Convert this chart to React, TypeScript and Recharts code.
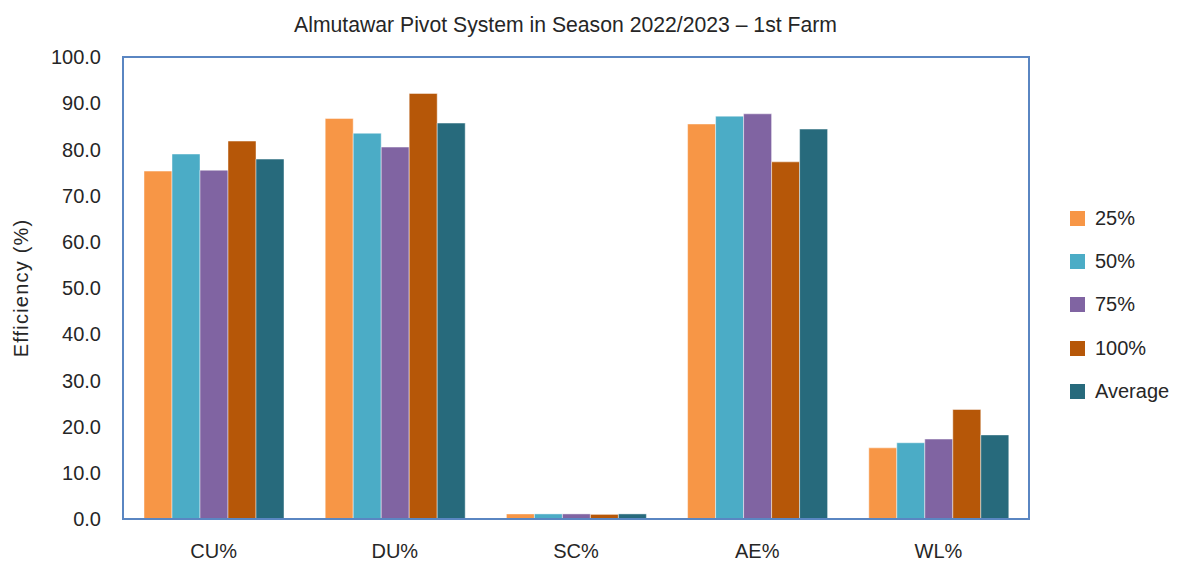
import { BarChart, Bar, XAxis, YAxis, Legend, ReferenceArea } from "recharts";

const categories = ["CU%", "DU%", "SC%", "AE%", "WL%"];
const s25 = [75.3, 86.7, 1.1, 85.5, 15.4];
const s50 = [79.0, 83.5, 1.1, 87.2, 16.5];
const s75 = [75.5, 80.5, 1.1, 87.7, 17.3];
const s100 = [81.8, 92.1, 1.0, 77.3, 23.7];
const sAvg = [77.9, 85.7, 1.1, 84.4, 18.2];
const yTicks = [0, 10, 20, 30, 40, 50, 60, 70, 80, 90, 100];

const series = [
  { key: "25%", values: s25, color: "#F79646" },
  { key: "50%", values: s50, color: "#4BACC6" },
  { key: "75%", values: s75, color: "#8064A2" },
  { key: "100%", values: s100, color: "#B65708" },
  { key: "Average", values: sAvg, color: "#276A7C" },
];

const data = categories.map((name, i) => {
  const row: Record<string, string | number> = { name };
  series.forEach((s) => (row[s.key] = s.values[i]));
  return row;
});

const FONT = "'Liberation Sans', Arial, sans-serif";
const TEXT = "#262626";

const LegendBox = () => (
  <div style={{ fontFamily: FONT, paddingLeft: 41, whiteSpace: "nowrap" }}>
    {series.map((s) => (
      <div
        key={s.key}
        style={{ display: "flex", alignItems: "center", height: 43.2 }}
      >
        <span
          style={{
            width: 15,
            height: 15,
            flexShrink: 0,
            background: s.color,
            display: "inline-block",
            marginRight: 10,
          }}
        />
        <span style={{ fontSize: 20, color: TEXT }}>{s.key}</span>
      </div>
    ))}
  </div>
);

export default function App() {
  return (
    <div style={{ position: "absolute", left: 0, top: 0, width: 1181, height: 561 }}>
      <div
        style={{
          position: "absolute",
          top: 14,
          left: 565.5,
          transform: "translateX(-50%)",
          whiteSpace: "nowrap",
          fontFamily: FONT,
          fontSize: 21.2,
          lineHeight: "21px",
          color: TEXT,
        }}
      >
        Almutawar Pivot System in Season 2022/2023 – 1st Farm
      </div>
      <BarChart
        width={1181}
        height={561}
        data={data}
        margin={{ top: 57, right: 42, left: 13, bottom: 12 }}
        barCategoryGap={21}
        barGap={0}
      >
        <XAxis
          dataKey="name"
          height={30}
          axisLine={{ stroke: "#5A86C2", strokeWidth: 2 }}
          tickLine={false}
          tickMargin={19}
          tick={{ fill: TEXT, fontSize: 20, fontFamily: FONT }}
        />
        <YAxis
          width={110}
          domain={[0, 100]}
          ticks={yTicks}
          interval={0}
          tickFormatter={(v: number) => v.toFixed(1)}
          axisLine={{ stroke: "#5A86C2", strokeWidth: 2 }}
          tickLine={false}
          tickMargin={16}
          tick={{ fill: TEXT, fontSize: 20, fontFamily: FONT }}
          label={{
            value: "Efficiency (%)",
            angle: -90,
            position: "insideLeft",
            offset: 8,
            style: {
              textAnchor: "middle",
              fill: TEXT,
              fontSize: 20,
              fontFamily: FONT,
              letterSpacing: 1.2,
            },
          }}
        />
        <Legend
          layout="vertical"
          align="right"
          verticalAlign="middle"
          content={<LegendBox />}
          wrapperStyle={{ width: 110, top: 197, overflow: "visible" }}
        />
        {series.map((s) => (
          <Bar
            key={s.key}
            dataKey={s.key}
            fill={s.color}
            stroke="rgba(255,255,255,0.45)"
            strokeWidth={1}
            isAnimationActive={false}
          />
        ))}
        <ReferenceArea
          y1={0}
          y2={100}
          fill="none"
          stroke="#5A86C2"
          strokeWidth={2}
          ifOverflow="visible"
        />
      </BarChart>
    </div>
  );
}
